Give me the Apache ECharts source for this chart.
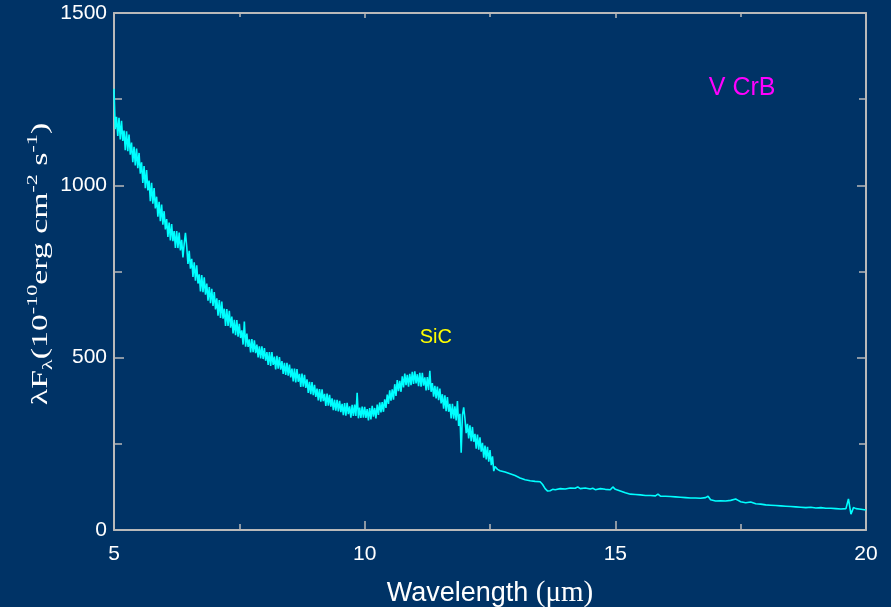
<!DOCTYPE html>
<html>
<head>
<meta charset="utf-8">
<script src="https://cdn.jsdelivr.net/npm/echarts@6/dist/echarts.min.js"></script>
<style>
  html, body { margin: 0; padding: 0; background: #003366; }
  #chart { width: 891px; height: 607px; }
</style>
</head>
<body>
<div id="chart"></div>
<script>
// Short-wavelength part of the V CrB spectrum (5.0 - 12.6 um), densely sampled and noisy
const waveBlue = [
  5.000, 5.025, 5.050, 5.075, 5.100, 5.125, 5.150, 5.175, 5.200, 5.225, 5.250, 5.275,
  5.300, 5.325, 5.350, 5.375, 5.400, 5.425, 5.450, 5.475, 5.500, 5.525, 5.550, 5.575,
  5.600, 5.625, 5.650, 5.675, 5.700, 5.725, 5.750, 5.775, 5.800, 5.825, 5.850, 5.875,
  5.900, 5.925, 5.950, 5.975, 6.000, 6.025, 6.050, 6.075, 6.100, 6.125, 6.150, 6.175,
  6.200, 6.225, 6.250, 6.275, 6.300, 6.325, 6.350, 6.375, 6.400, 6.425, 6.450, 6.475,
  6.500, 6.525, 6.550, 6.575, 6.600, 6.625, 6.650, 6.675, 6.700, 6.725, 6.750, 6.775,
  6.800, 6.825, 6.850, 6.875, 6.900, 6.925, 6.950, 6.975, 7.000, 7.025, 7.050, 7.075,
  7.100, 7.125, 7.150, 7.175, 7.200, 7.225, 7.250, 7.275, 7.300, 7.325, 7.350, 7.375,
  7.400, 7.425, 7.450, 7.475, 7.500, 7.525, 7.550, 7.575, 7.600, 7.625, 7.650, 7.675,
  7.700, 7.725, 7.750, 7.775, 7.800, 7.825, 7.850, 7.875, 7.900, 7.925, 7.950, 7.975,
  8.000, 8.025, 8.050, 8.075, 8.100, 8.125, 8.150, 8.175, 8.200, 8.225, 8.250, 8.275,
  8.300, 8.325, 8.350, 8.375, 8.400, 8.425, 8.450, 8.475, 8.500, 8.525, 8.550, 8.575,
  8.600, 8.625, 8.650, 8.675, 8.700, 8.725, 8.750, 8.775, 8.800, 8.825, 8.850, 8.875,
  8.900, 8.925, 8.950, 8.975, 9.000, 9.025, 9.050, 9.075, 9.100, 9.125, 9.150, 9.175,
  9.200, 9.225, 9.250, 9.275, 9.300, 9.325, 9.350, 9.375, 9.400, 9.425, 9.450, 9.475,
  9.500, 9.525, 9.550, 9.575, 9.600, 9.625, 9.650, 9.675, 9.700, 9.725, 9.750, 9.775,
  9.800, 9.825, 9.850, 9.875, 9.900, 9.925, 9.950, 9.975, 10.000, 10.025, 10.050, 10.075,
  10.100, 10.125, 10.150, 10.175, 10.200, 10.225, 10.250, 10.275, 10.300, 10.325, 10.350, 10.375,
  10.400, 10.425, 10.450, 10.475, 10.500, 10.525, 10.550, 10.575, 10.600, 10.625, 10.650, 10.675,
  10.700, 10.725, 10.750, 10.775, 10.800, 10.825, 10.850, 10.875, 10.900, 10.925, 10.950, 10.975,
  11.000, 11.025, 11.050, 11.075, 11.100, 11.125, 11.150, 11.175, 11.200, 11.225, 11.250, 11.275,
  11.300, 11.325, 11.350, 11.375, 11.400, 11.425, 11.450, 11.475, 11.500, 11.525, 11.550, 11.575,
  11.600, 11.625, 11.650, 11.675, 11.700, 11.725, 11.750, 11.775, 11.800, 11.825, 11.850, 11.875,
  11.900, 11.925, 11.950, 11.975, 12.000, 12.025, 12.050, 12.075, 12.100, 12.125, 12.150, 12.175,
  12.200, 12.225, 12.250, 12.275, 12.300, 12.325, 12.350, 12.375, 12.400, 12.425, 12.450, 12.475,
  12.500, 12.525, 12.550, 12.575, 12.600
];
const fluxBlue = [
  1280, 1163, 1199, 1143, 1196, 1133, 1187, 1129, 1159, 1102, 1157, 1099,
  1147, 1089, 1124, 1067, 1112, 1058, 1107, 1050, 1094, 1034, 1067, 1007,
  1056, 992, 1044, 985, 1014, 954, 1007, 947, 992, 933, 967, 909,
  952, 896, 944, 886, 925, 872, 902, 850, 892, 840, 888, 838,
  867, 818, 867, 818, 863, 811, 842, 791, 830, 862, 823, 772,
  810, 758, 787, 734, 777, 723, 768, 715, 742, 692, 740, 690,
  733, 683, 715, 665, 705, 658, 700, 650, 690, 640, 672, 622,
  667, 615, 663, 613, 642, 592, 641, 592, 636, 587, 619, 570,
  610, 565, 609, 561, 598, 557, 579, 538, 605, 532, 570, 531,
  553, 515, 554, 516, 550, 513, 538, 501, 533, 498, 533, 496,
  528, 491, 516, 479, 516, 476, 516, 479, 503, 466, 505, 468,
  502, 465, 490, 453, 485, 450, 485, 448, 480, 443, 468, 431,
  468, 428, 467, 430, 453, 415, 454, 416, 450, 412, 437, 398,
  430, 394, 429, 391, 421, 386, 410, 376, 409, 372, 408, 374,
  395, 360, 396, 361, 392, 358, 382, 348, 378, 346, 378, 344,
  375, 342, 366, 333, 368, 332, 369, 336, 359, 326, 363, 331,
  364, 331, 398, 324, 355, 325, 358, 326, 357, 325, 351, 318,
  354, 321, 360, 329, 354, 324, 364, 334, 370, 341, 371, 343,
  379, 354, 393, 366, 405, 375, 408, 378, 423, 389, 435, 403,
  433, 401, 446, 414, 454, 420, 450, 416, 453, 420, 459, 424,
  460, 425, 452, 417, 456, 416, 456, 419, 443, 405, 444, 406,
  462, 401, 426, 387, 418, 382, 416, 377, 410, 367, 394, 352,
  391, 345, 386, 343, 366, 324, 366, 323, 359, 318, 374, 302,
  337, 224, 333, 356, 324, 281, 308, 266, 304, 258, 299, 256,
  279, 236, 277, 233, 269, 227, 253, 210, 245, 205, 241, 198,
  232, 188, 214, 171, 184
];

// Long-wavelength part (12.65 - 20 um), much smoother
const waveRed = [
  12.65, 12.70, 12.80, 12.90, 13.00, 13.10, 13.20, 13.30, 13.40, 13.50,
  13.55, 13.60, 13.65, 13.70, 13.75, 13.80, 13.90, 14.00, 14.10, 14.20,
  14.25, 14.30, 14.40, 14.50, 14.55, 14.60, 14.70, 14.80, 14.90, 14.95,
  15.00, 15.10, 15.20, 15.30, 15.40, 15.50, 15.60, 15.70, 15.80, 15.85,
  15.90, 16.00, 16.10, 16.20, 16.30, 16.40, 16.50, 16.60, 16.70, 16.80,
  16.85, 16.90, 17.00, 17.10, 17.20, 17.30, 17.40, 17.45, 17.50, 17.60,
  17.70, 17.80, 17.90, 18.00, 18.10, 18.20, 18.30, 18.40, 18.50, 18.60,
  18.70, 18.80, 18.90, 19.00, 19.10, 19.20, 19.30, 19.40, 19.50, 19.60,
  19.65, 19.70, 19.75, 19.80, 19.90, 20.00
];
const fluxRed = [
  176, 172, 168, 163, 158, 151, 146, 143, 141, 140,
  132, 120, 113, 114, 118, 117, 120, 119, 122, 121,
  125, 120, 122, 119, 121, 117, 120, 118, 117, 125,
  118, 113, 108, 104, 103, 102, 100, 100, 99, 104,
  98, 98, 97, 96, 95, 94, 93, 93, 92, 94,
  98, 88, 84, 85, 84, 86, 90, 86, 82, 79,
  81, 76, 75, 73, 72, 71, 70, 69, 68, 67,
  66, 65, 66, 64, 65, 63, 63, 62, 61, 62,
  90, 46, 65, 62, 60, 58
];

// Axis ranges
const xTicks = [5, 10, 15, 20];
const yTicks = [0, 500, 1000, 1500];

// Annotations placed in data coordinates
const annotations = [
  { name: 'SiC',   wave: 11.42, flux: 560,  color: '#ffff00', size: 20 },
  { name: 'V CrB', wave: 17.53, flux: 1283, color: '#ff00ff', size: 25 }
];

const spectrum = [];
waveBlue.forEach((w, i) => spectrum.push([w, fluxBlue[i]]));
waveRed.forEach((w, i) => spectrum.push([w, fluxRed[i]]));

const frame = '#b9b9b9';
const sans = '"Liberation Sans", Arial, sans-serif';
const serif = '"Liberation Serif", "Times New Roman", serif';

function frameAxis(extra) {
  return Object.assign({
    type: 'value',
    axisLine: { show: true, onZero: false, lineStyle: { color: frame, width: 2 } },
    axisTick: { show: true, inside: true, length: 9, lineStyle: { color: frame, width: 1.5 } },
    minorTick: { show: true, splitNumber: 2, length: 6, lineStyle: { color: frame, width: 1.5 } },
    splitLine: { show: false },
    minorSplitLine: { show: false }
  }, extra);
}

const chart = echarts.init(document.getElementById('chart'), null, { renderer: 'canvas' });
chart.setOption({
  animation: false,
  backgroundColor: '#003366',
  grid: { left: 114, right: 25, top: 13, bottom: 77, containLabel: false, outerBoundsMode: 'none' },
  // Vertical flux-unit title, widened along its reading direction
  graphic: [{
    type: 'text',
    x: 41,
    y: 264,
    rotation: Math.PI / 2,
    scaleX: 1.47,
    silent: true,
    style: {
      text: '{t|\u03bbF}{sub|\u03bb}{t|(10}{sup|-10}{t|erg cm}{sup|-2}{t| s}{sup|-1}{t|)}',
      align: 'center',
      verticalAlign: 'middle',
      fill: '#ffffff',
      rich: {
        t:   { fill: '#ffffff', fontSize: 23, fontFamily: serif, lineHeight: 30, verticalAlign: 'middle' },
        sup: { fill: '#ffffff', fontSize: 15, fontFamily: serif, lineHeight: 15, verticalAlign: 'top' },
        sub: { fill: '#ffffff', fontSize: 15, fontFamily: serif, lineHeight: 15, verticalAlign: 'bottom' }
      }
    }
  }],
  xAxis: [
    frameAxis({
      position: 'bottom',
      min: xTicks[0], max: xTicks[xTicks.length - 1], interval: 5,
      axisLabel: { color: '#ffffff', fontSize: 21, fontFamily: sans, margin: 14 },
      name: '{a|Wavelength }{b|(\u03bcm)}',
      nameLocation: 'middle',
      nameGap: 49,
      nameTextStyle: {
        rich: {
          a: { color: '#ffffff', fontSize: 27, fontFamily: sans },
          b: { color: '#ffffff', fontSize: 29, fontFamily: serif }
        }
      }
    }),
    frameAxis({
      position: 'top',
      min: xTicks[0], max: xTicks[xTicks.length - 1], interval: 5,
      axisTick: { show: true, inside: true, length: 5, lineStyle: { color: frame, width: 1.5 } },
      minorTick: { show: true, splitNumber: 2, length: 4, lineStyle: { color: frame, width: 1.5 } },
      axisLabel: { show: false }
    })
  ],
  yAxis: [
    frameAxis({
      position: 'left',
      min: yTicks[0], max: yTicks[yTicks.length - 1], interval: 500,
      axisTick: { show: true, inside: true, length: 10, lineStyle: { color: frame, width: 1.5 } },
      minorTick: { show: true, splitNumber: 2, length: 8, lineStyle: { color: frame, width: 1.5 } },
      axisLabel: {
        color: '#ffffff', fontSize: 21, fontFamily: sans, margin: 7,
        formatter: v => String(v)
      }
    }),
    frameAxis({
      position: 'right',
      min: yTicks[0], max: yTicks[yTicks.length - 1], interval: 500,
      axisTick: { show: true, inside: true, length: 9, lineStyle: { color: frame, width: 1.5 } },
      minorTick: { show: true, splitNumber: 2, length: 7, lineStyle: { color: frame, width: 1.5 } },
      axisLabel: { show: false }
    })
  ],
  series: [
    {
      name: 'V CrB',
      type: 'line',
      xAxisIndex: 0,
      yAxisIndex: 0,
      data: spectrum,
      showSymbol: false,
      symbol: 'none',
      lineStyle: { color: '#00ffff', width: 1.6 },
      z: 3
    },
    {
      type: 'scatter',
      xAxisIndex: 0,
      yAxisIndex: 0,
      symbolSize: 0,
      silent: true,
      itemStyle: { opacity: 1 },
      data: annotations.map(a => ({
        value: [a.wave, a.flux],
        label: {
          show: true,
          position: 'inside',
          formatter: a.name,
          color: a.color,
          opacity: 1,
          fontSize: a.size,
          fontFamily: sans
        }
      })),
      z: 4
    }
  ]
});
</script>
</body>
</html>
